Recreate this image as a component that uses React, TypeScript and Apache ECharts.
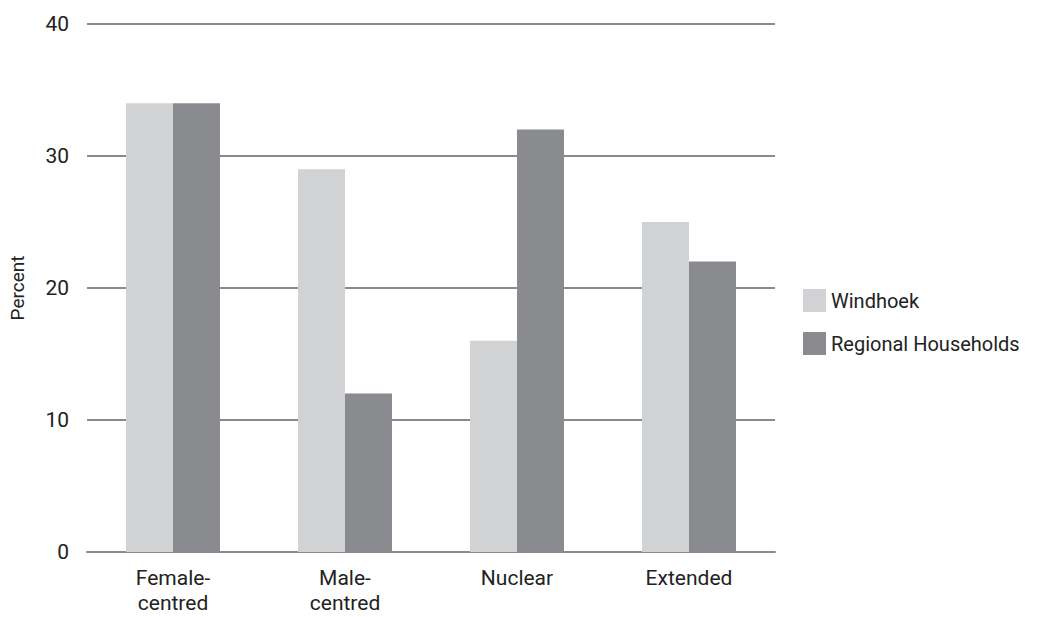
import React, { useEffect, useRef } from "react";
import * as echarts from "echarts";

const categories = ["Female-\ncentred", "Male-\ncentred", "Nuclear", "Extended"];
const windhoek = [34, 29, 16, 25];
const regional = [34, 12, 32, 22];
const seriesNames = ["Windhoek", "Regional Households"];

const FONT = "'Roboto', 'Liberation Sans', sans-serif";

export default function App() {
  const ref = useRef<HTMLDivElement>(null);
  useEffect(() => {
    if (!ref.current) return;
    const chart = echarts.init(ref.current, null, { renderer: "svg" });
    chart.setOption({
      animation: false,
      textStyle: { fontFamily: FONT },
      grid: { left: 85, right: 262, top: 24, bottom: 65 },
      legend: {
        orient: "vertical",
        left: 803,
        top: 289,
        padding: 0,
        itemWidth: 23,
        itemHeight: 23,
        itemGap: 20,
        icon: "rect",
        textStyle: { fontSize: 20, color: "#222", fontFamily: FONT, lineHeight: 23 },
        data: seriesNames,
      },
      xAxis: {
        type: "category",
        data: categories,
        axisLine: { show: true, lineStyle: { color: "#8a8a8e", width: 2 } },
        axisTick: { show: false },
        axisLabel: { fontSize: 21, color: "#222", margin: 13, lineHeight: 25, fontFamily: FONT },
      },
      yAxis: {
        type: "value",
        min: 0,
        max: 40,
        interval: 10,
        name: "Percent",
        nameLocation: "middle",
        nameGap: 60,
        nameTextStyle: { fontSize: 19, color: "#222", fontFamily: FONT },
        axisLine: { show: false },
        axisTick: { show: false },
        axisLabel: { fontSize: 21, color: "#222", margin: 18, fontFamily: FONT },
        splitLine: { lineStyle: { color: "#8a8a8e", width: 2 } },
      },
      series: [
        {
          name: seriesNames[0],
          type: "bar",
          data: windhoek,
          barWidth: 47,
          barGap: "0%",
          itemStyle: { color: "#d1d2d4" },
        },
        {
          name: seriesNames[1],
          type: "bar",
          data: regional,
          barWidth: 47,
          barGap: "0%",
          itemStyle: { color: "#8a8b8f" },
        },
      ],
    });
    return () => chart.dispose();
  }, []);
  return <div ref={ref} style={{ width: 1037, height: 617, position: "absolute", left: 0, top: 0 }} />;
}
